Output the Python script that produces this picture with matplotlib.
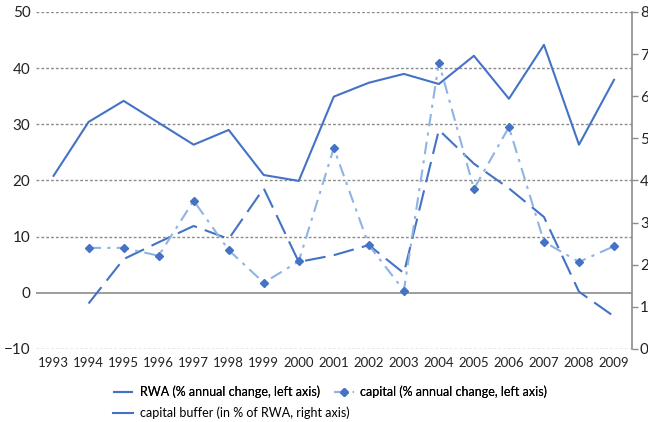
import numpy as np
import matplotlib.pyplot as plt

plt.rcParams['font.family'] = ['Lato', 'DejaVu Sans']

years = list(range(1993, 2010))
# left axis (% annual change), start in 1994
rwa = [np.nan, -1.9, 6.0, 9.0, 11.9, 9.6, 18.6, 5.5, 6.7, 8.5, 3.5, 29.0, 23.0, 18.6, 13.5, 0.2, -4.2]
capital = [np.nan, 8.0, 8.0, 6.6, 16.4, 7.6, 1.8, 5.6, 25.8, 8.5, 0.4, 41.0, 18.5, 29.5, 9.1, 5.5, 8.3]
# right axis (in % of RWA)
buffer = [4.11, 5.39, 5.89, 5.37, 4.85, 5.20, 4.13, 3.99, 5.99, 6.32, 6.53, 6.29, 6.96, 5.94, 7.22, 4.85, 6.39]

dark = '#4472c4'
light = '#8fb4e3'
x = np.arange(len(years))

fig = plt.figure(figsize=(6.48, 4.22), dpi=100)
ax = fig.add_axes([0.0556, 0.173, 0.919, 0.7986])
ax2 = ax.twinx()

ax.set_xlim(-0.5, len(years) - 0.5)
ax.set_ylim(-10, 50)
ax2.set_ylim(0, 8)

for v in [-10, 10, 20, 30, 40, 50]:
    ax.axhline(v, color='#8c8c8c', lw=1, ls=(0, (2, 1.5)), zorder=0)
ax.axhline(0, color='#8c8c8c', lw=1.2, zorder=0)

l1, = ax.plot(x, rwa, color=dark, lw=1.5, dashes=(10, 4), label='RWA (% annual change, left axis)')
l2, = ax.plot(x, capital, color=light, lw=1.5, dashes=(6, 3, 1.5, 3), marker='D', ms=4,
              mfc=dark, mec=dark, label='capital (% annual change, left axis)')
l3, = ax2.plot(x, buffer, color=dark, lw=1.5, label='capital buffer (in % of RWA, right axis)')

ax.set_xticks(x)
ax.set_xticklabels([str(y) for y in years], fontsize=9.5)
ax.set_yticks(range(-10, 51, 10))
ax.tick_params(axis='y', labelsize=11, length=0, pad=4, colors='#222222')
ax.tick_params(axis='x', length=0, pad=6, colors='#222222')
ax2.set_yticks(range(0, 9))
ax2.tick_params(axis='y', labelsize=11, length=4, width=1, color='#8c8c8c', pad=2, labelcolor='#222222')

for s in ['top', 'left', 'bottom', 'right']:
    ax.spines[s].set_visible(False)
    ax2.spines[s].set_visible(False)
ax2.spines['right'].set_visible(True)
ax2.spines['right'].set_color('#8c8c8c')
ax2.spines['right'].set_linewidth(1.2)

# legend flows like Excel: two entries on row 1, one on row 2
leg_kw = dict(frameon=False, fontsize=9, handlelength=1.6, handletextpad=0.55,
              columnspacing=1.1, borderaxespad=0, borderpad=0, loc='center left')
leg1 = fig.legend([l1, l2], [l1.get_label(), l2.get_label()], ncol=2,
                  bbox_to_anchor=(0.174, 0.071), **leg_kw)
fig.add_artist(leg1)
fig.legend([l3], [l3.get_label()], bbox_to_anchor=(0.174, 0.021), **leg_kw)

fig.savefig('out.png', dpi=100)
